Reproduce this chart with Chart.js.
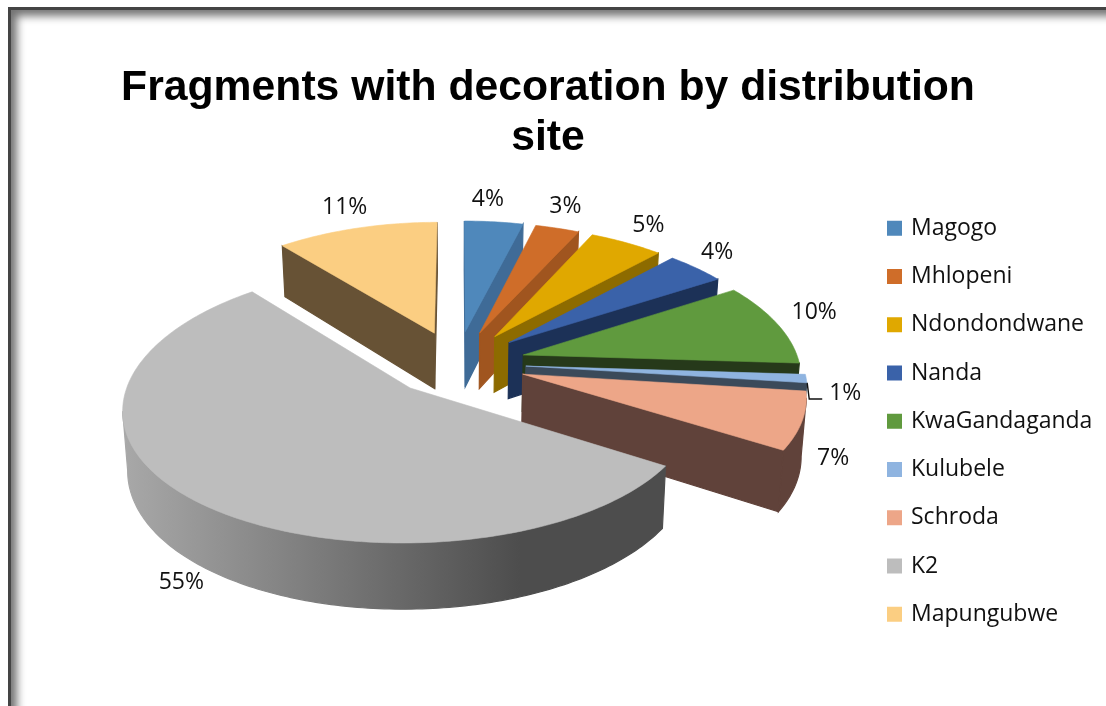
<!DOCTYPE html>
<html>
<head>
<meta charset="utf-8">
<title>Fragments with decoration by distribution site</title>
<style>
  html, body { margin: 0; height: 100%; overflow: hidden; background: #fff; }
  .frame {
    position: absolute; left: 8px; top: 7px; right: -20px; bottom: -20px;
    border-left: 3px solid #444; border-top: 3px solid #444;
    box-shadow: inset 6px 6px 9px rgba(0, 0, 0, 0.55);
  }
  canvas { position: absolute; left: 0; top: 0; display: block; }
</style>
<script src="https://cdn.jsdelivr.net/npm/chart.js@4"></script>
</head>
<body>
<div class="frame"></div>
<canvas id="siteChart" width="1106" height="706"></canvas>
<script>
  const sites = ['Magogo', 'Mhlopeni', 'Ndondondwane', 'Nanda', 'KwaGandaganda', 'Kulubele', 'Schroda', 'K2', 'Mapungubwe'];
  const shares = [4, 3, 5, 4, 10, 1, 7, 55, 11];

  const topColors = ['#4f88bb', '#cf6d29', '#e0a800', '#3a62a9', '#609a3e', '#8fb4e0', '#eda688', '#bdbdbd', '#fbce82'];
  const sideColors = ['#3f6b97', '#a0551f', '#8d6b00', '#1c3157', '#26391a', '#3b4a5a', '#60423a', '#4d4d4d', '#675235'];

  // label placement relative to the middle of each slice's rim
  const labelNudge = [[-6, -22], [8, -22], [22, -17], [21, -16], [37, -11], [39, 15], [31, 37], [-13, 82], [-12, -21]];
  const leaderSlices = [5];

  // perspective of the tilted pie
  const view = { x: 457, y: 363, sx: 276, sy: 130.4, perspX: 0.14, perspY: 0.1174, explode: 0.25, depth: 57, shrink: 0.985 };

  function project(u, v) {
    const w = 1 - view.perspY * v;
    return { x: view.x + view.sx * u / (1 - view.perspX * v), y: view.y + view.sy * v / w, w };
  }

  // a point on a slice, angle measured clockwise from 12 o'clock
  function slicePoint(mid, angle, r) {
    const u = view.explode * Math.sin(mid) + r * Math.sin(angle);
    const v = -view.explode * Math.cos(mid) - r * Math.cos(angle);
    return project(u, v);
  }

  function lower(p) {
    return { x: view.x + (p.x - view.x) * view.shrink, y: p.y + view.depth / p.w };
  }

  function tracePath(ctx, points) {
    ctx.beginPath();
    points.forEach((p, i) => (i ? ctx.lineTo(p.x, p.y) : ctx.moveTo(p.x, p.y)));
    ctx.closePath();
  }

  function fillShape(ctx, points, color, edge = 0.6) {
    tracePath(ctx, points);
    ctx.fillStyle = color;
    ctx.strokeStyle = color;
    ctx.lineWidth = edge;
    ctx.fill();
    ctx.stroke();
  }

  function lighten(hex, k) {
    const n = parseInt(hex.slice(1), 16);
    const c = [n >> 16, (n >> 8) & 255, n & 255].map(x => Math.min(255, Math.round(x * k)));
    return `rgb(${c.join(',')})`;
  }

  const pie3d = {
    id: 'pie3d',
    afterLayout(chart) {
      chart.legend.left = 864.25;
      chart.legend.top = 191.5;
    },
    beforeDatasetsDraw(chart) {
      const ctx = chart.ctx;
      const arcs = chart.getDatasetMeta(0).data.map((arc, i) => {
        const start = arc.startAngle + Math.PI / 2;
        const end = arc.endAngle + Math.PI / 2;
        return { i, start, end, mid: (start + end) / 2 };
      });

      // back slices first
      const order = arcs.slice().sort((a, b) => Math.cos(b.mid) - Math.cos(a.mid));
      order.forEach(({ i, start, end, mid }) => {
        const apex = slicePoint(mid, 0, 0);
        const rim = [];
        const steps = Math.max(4, Math.ceil((end - start) * 60));
        for (let s = 0; s <= steps; s++) {
          rim.push(slicePoint(mid, start + (end - start) * s / steps, 1));
        }
        const first = rim[0];
        const last = rim[rim.length - 1];

        // outer wall along the front of the rim
        const front = rim.filter((p, s) => (s > 0 && p.x < rim[s - 1].x) || (s < steps && rim[s + 1].x < p.x));
        if (front.length > 1) {
          const shade = ctx.createLinearGradient(120, 0, 520, 0);
          shade.addColorStop(0, lighten(sideColors[i], 2.2));
          shade.addColorStop(1, sideColors[i]);
          fillShape(ctx, front.concat(front.map(lower).reverse()), shade, 1.2);
        }

        // cut faces, only the ones turned towards the viewer
        if (first.x < apex.x) fillShape(ctx, [apex, first, lower(first), lower(apex)], sideColors[i], 1.2);
        if (last.x > apex.x) fillShape(ctx, [last, apex, lower(apex), lower(last)], sideColors[i], 1.2);

        fillShape(ctx, [apex].concat(rim), topColors[i]);
      });

      // value labels
      ctx.font = '23px "Open Sans"';
      ctx.textAlign = 'center';
      ctx.textBaseline = 'middle';
      ctx.fillStyle = '#111';
      arcs.forEach(({ i, mid }) => {
        const p = slicePoint(mid, mid, 1);
        ctx.fillText(shares[i] + '%', p.x + labelNudge[i][0], p.y + labelNudge[i][1]);
        if (leaderSlices.includes(i)) {
          ctx.beginPath();
          ctx.moveTo(p.x + 1, p.y + 4.5);
          ctx.lineTo(p.x + 3, p.y + 20.5);
          ctx.lineTo(p.x + 16, p.y + 20.5);
          ctx.strokeStyle = '#111';
          ctx.lineWidth = 1.4;
          ctx.stroke();
        }
      });
      return false;
    }
  };

  new Chart(document.getElementById('siteChart'), {
    type: 'pie',
    data: {
      labels: sites,
      datasets: [{
        data: shares,
        backgroundColor: topColors,
        borderColor: topColors,
        borderWidth: 5
      }]
    },
    options: {
      responsive: false,
      animation: false,
      events: [],
      layout: { padding: { right: 10 } },
      plugins: {
        title: {
          display: true,
          text: ['Fragments with decoration by distribution', 'site'],
          color: '#000',
          font: { family: '"Liberation Sans"', size: 42.7, weight: 'bold', lineHeight: 1.17 },
          padding: { top: 63, bottom: 0 }
        },
        legend: {
          position: 'right',
          align: 'start',
          labels: {
            boxWidth: 10,
            boxHeight: 10,
            padding: 25.25,
            color: '#111',
            font: { family: '"Open Sans"', size: 23 }
          }
        },
        tooltip: { enabled: false }
      }
    },
    plugins: [pie3d]
  });
</script>
</body>
</html>
